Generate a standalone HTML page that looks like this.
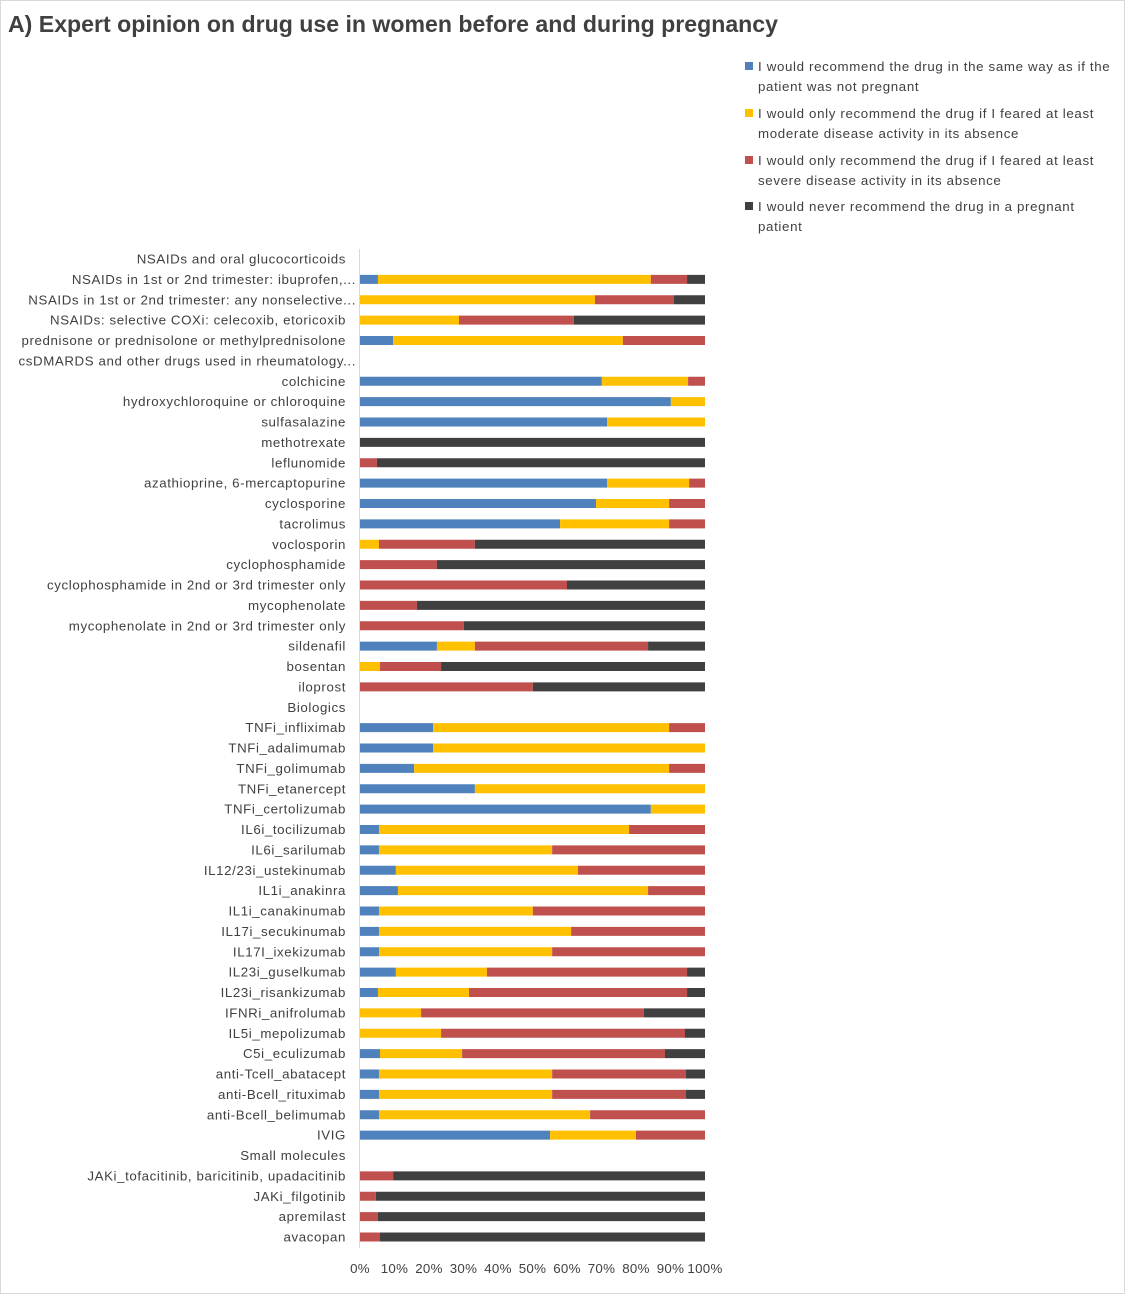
<!DOCTYPE html>
<html><head><meta charset="utf-8"><style>
body{margin:0;background:#fff}
svg{display:block;font-family:"Liberation Sans",sans-serif}
</style></head><body>
<svg id="chart" width="1125" height="1294" viewBox="0 0 1125 1294">
<rect x="0.5" y="0.5" width="1124" height="1293" fill="#fff" stroke="#d9d9d9"/>
<text x="8" y="32" font-size="23" font-weight="bold" fill="#404040" textLength="770" lengthAdjust="spacingAndGlyphs">A) Expert opinion on drug use in women before and during pregnancy</text>
<g id="legend"></g>
<g id="plot"></g>
</svg>
<script>
const categories=["NSAIDs and oral glucocorticoids","NSAIDs in 1st or 2nd trimester: ibuprofen,...","NSAIDs in 1st or 2nd trimester: any nonselective...","NSAIDs: selective COXi: celecoxib, etoricoxib","prednisone or prednisolone or methylprednisolone","csDMARDS and other drugs used in rheumatology...","colchicine","hydroxychloroquine or chloroquine","sulfasalazine","methotrexate","leflunomide","azathioprine, 6-mercaptopurine","cyclosporine","tacrolimus","voclosporin","cyclophosphamide","cyclophosphamide in 2nd or 3rd trimester only","mycophenolate","mycophenolate in 2nd or 3rd trimester only","sildenafil","bosentan","iloprost","Biologics","TNFi_infliximab","TNFi_adalimumab","TNFi_golimumab","TNFi_etanercept","TNFi_certolizumab","IL6i_tocilizumab","IL6i_sarilumab","IL12/23i_ustekinumab","IL1i_anakinra","IL1i_canakinumab","IL17i_secukinumab","IL17I_ixekizumab","IL23i_guselkumab","IL23i_risankizumab","IFNRi_anifrolumab","IL5i_mepolizumab","C5i_eculizumab","anti-Tcell_abatacept","anti-Bcell_rituximab","anti-Bcell_belimumab","IVIG","Small molecules","JAKi_tofacitinib, baricitinib, upadacitinib","JAKi_filgotinib","apremilast","avacopan"];
const recommendSame=[0,5.2,0,0,9.6,0,70.1,90.1,71.6,0,0,71.6,68.4,58.0,0,0,0,0,0,22.3,0,0,0,21.2,21.2,15.7,33.3,84.3,5.5,5.5,10.4,11,5.5,5.5,5.5,10.4,5.2,0,0,5.8,5.5,5.5,5.5,55.1,0,0,0,0,0];
const ifModerate=[0,79.1,68.1,28.7,66.6,0,25.0,9.9,28.4,0,0,23.8,21.2,31.6,5.5,0,0,0,0,11.0,5.8,0,0,68.4,78.8,73.9,66.7,15.7,72.5,50.2,52.8,72.5,44.6,55.7,50.2,26.4,26.4,17.7,23.5,23.8,50.2,50.2,61.2,24.9,0,0,0,0,0];
const ifSevere=[0,10.5,22.9,33.3,23.8,0,4.9,0,0,0,4.9,4.6,10.4,10.4,27.8,22.3,60.0,16.5,30.1,50.2,17.7,50.1,0,10.4,0,10.4,0,0,22.0,44.3,36.8,16.5,49.9,38.8,44.3,58.0,63.2,64.6,70.7,58.8,38.8,38.8,33.3,20.0,0,9.6,4.6,5.2,5.8];
const never=[0,5.2,9.0,38.0,0,0,0,0,0,100,95.1,0,0,0,66.7,77.7,40.0,83.5,69.9,16.5,76.5,49.9,0,0,0,0,0,0,0,0,0,0,0,0,0,5.2,5.2,17.7,5.8,11.6,5.5,5.5,0,0,0,90.4,95.4,94.8,94.2];
const tickLabels=["0%","10%","20%","30%","40%","50%","60%","70%","80%","90%","100%"];
const seriesNames=["I would recommend the drug in the same way as if the|patient was not pregnant","I would only recommend the drug if I feared at least|moderate disease activity in its absence","I would only recommend the drug if I feared at least|severe disease activity in its absence","I would never recommend the drug in a pregnant|patient"];
const colors=["#4f81bd","#ffc000","#c0504d","#404040"];
const NS="http://www.w3.org/2000/svg";
const x0=360,x1=705,yTop=259,yBot=1237;
const xs=v=>x0+(x1-x0)*v/100;
const ys=i=>yTop+(yBot-yTop)*i/(categories.length-1);
const plot=document.getElementById('plot');
const legend=document.getElementById('legend');
function mk(tag,attrs,parent){const e=document.createElementNS(NS,tag);for(const k in attrs)e.setAttribute(k,attrs[k]);parent.appendChild(e);return e;}
const axis=mk('line',{x1:359.5,x2:359.5,y1:249,y2:1248,stroke:'#d9d9d9'},plot);


const series=[recommendSame,ifModerate,ifSevere,never];
categories.forEach((c,i)=>{
  const y=ys(i);
  const t=mk('text',{x:c.endsWith('...')?356:346,y:y+4.5,'text-anchor':'end','font-size':13.3,'letter-spacing':0.6,fill:'#404040'},plot);
  t.textContent=c;
  
  
  let acc=0;
  series.forEach((s,k)=>{
    const v=s[i];
    if(v>0){
      const r=mk('rect',{x:xs(acc),y:y-4.5,width:xs(acc+v)-xs(acc),height:9,fill:colors[k]},plot);
      
      
    }
    acc+=v;
  });
});
tickLabels.forEach((l,i)=>{
  const t=mk('text',{x:xs(i*10),y:1273,'text-anchor':'middle','font-size':13.3,'letter-spacing':0.3,fill:'#404040'},plot);
  t.textContent=l;
  
  
});
const legY=[66,113,160,206];
seriesNames.forEach((n,k)=>{
  const g=mk('g',{},legend);
  
  
  mk('rect',{x:745,y:legY[k]-4,width:8,height:8,fill:colors[k]},g);
  n.split('|').forEach((line,j)=>{
    const t=mk('text',{x:758,y:legY[k]+5+j*20,'font-size':13.3,'letter-spacing':0.65,fill:'#404040'},g);
    t.textContent=line;
  });
});
</script>
</body></html>
